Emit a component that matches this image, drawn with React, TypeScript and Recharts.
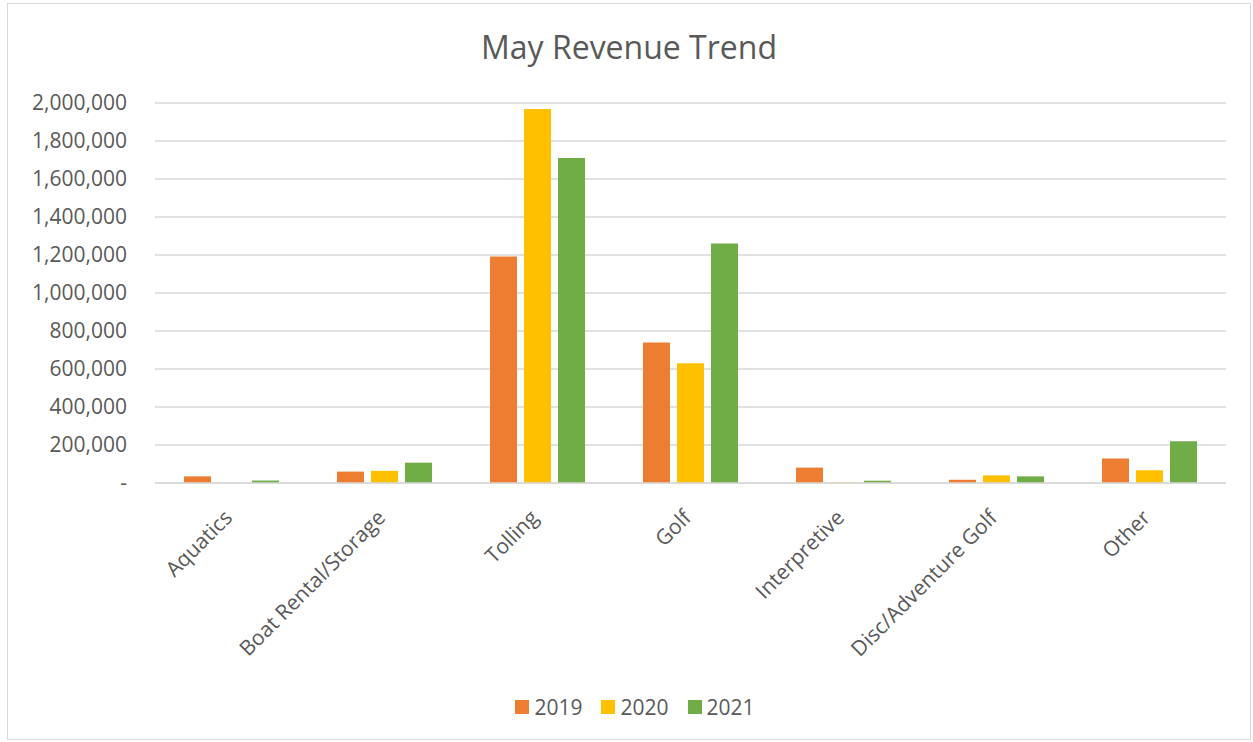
import { Bar, BarChart, CartesianGrid, Legend, XAxis, YAxis } from "recharts";

const categories = [
  "Aquatics",
  "Boat Rental/Storage",
  "Tolling",
  "Golf",
  "Interpretive",
  "Disc/Adventure Golf",
  "Other",
];
const rev2019 = [35000, 60000, 1192000, 740000, 81000, 17000, 129000];
const rev2020 = [0, 64000, 1968000, 630000, 3000, 40000, 67000];
const rev2021 = [13000, 107000, 1711000, 1260000, 12000, 35000, 220000];
const yTicks = [0, 200000, 400000, 600000, 800000, 1000000, 1200000, 1400000, 1600000, 1800000, 2000000];

const series = [
  { key: "2019", values: rev2019, color: "#ED7D31" },
  { key: "2020", values: rev2020, color: "#FFC000" },
  { key: "2021", values: rev2021, color: "#70AD47" },
];

const data = categories.map((name, i) => {
  const row: Record<string, string | number> = { name };
  series.forEach((s) => (row[s.key] = s.values[i]));
  return row;
});

const FONT = "'Open Sans', 'Liberation Sans', sans-serif";
const TEXT = "#595959";

function CategoryTick({ x, y, payload }: any) {
  return (
    <g transform={`translate(${x},${y})`}>
      <text
        x={2}
        y={28}
        textAnchor="end"
        transform="rotate(-45 2 28)"
        fill={TEXT}
        fontSize={21}
        fontFamily={FONT}
      >
        {payload.value}
      </text>
    </g>
  );
}

function YearLegend() {
  return (
    <div
      style={{
        display: "flex",
        justifyContent: "center",
        gap: 19,
        paddingLeft: 36,
        paddingTop: 2,
        fontFamily: FONT,
        fontSize: 21,
        color: TEXT,
      }}
    >
      {series.map((s) => (
        <span key={s.key} style={{ display: "flex", alignItems: "center", gap: 5 }}>
          <span style={{ width: 14, height: 14, background: s.color, display: "inline-block" }} />
          {s.key}
        </span>
      ))}
    </div>
  );
}

export default function App() {
  return (
    <div
      style={{
        position: "absolute",
        left: 7,
        top: 3,
        width: 1244,
        height: 737,
        boxSizing: "border-box",
        border: "1px solid #d9d9d9",
        background: "#fff",
      }}
    >
      <div
        style={{
          position: "absolute",
          left: 0,
          right: 0,
          top: 21,
          textAlign: "center",
          fontFamily: FONT,
          fontSize: 32,
          color: TEXT,
        }}
      >
        May Revenue Trend
      </div>
      <BarChart
        width={1242}
        height={735}
        data={data}
        margin={{ top: 99, right: 24, bottom: 18, left: 0 }}
        barGap={7}
        barSize={27}
      >
        <CartesianGrid vertical={false} stroke="#d9d9d9" strokeWidth={1.5} />
        <XAxis
          dataKey="name"
          interval={0}
          height={208}
          axisLine={{ stroke: "#d9d9d9", strokeWidth: 1.5 }}
          tickLine={false}
          tick={<CategoryTick />}
        />
        <YAxis
          width={147}
          domain={[0, 2000000]}
          ticks={yTicks}
          axisLine={false}
          tickLine={false}
          tickMargin={22}
          tick={{ fill: TEXT, fontSize: 21, fontFamily: FONT }}
          tickFormatter={(v: number) => (v === 0 ? "-" : v.toLocaleString("en-US"))}
        />
        <Legend verticalAlign="bottom" content={<YearLegend />} />
        {series.map((s) => (
          <Bar key={s.key} dataKey={s.key} fill={s.color} isAnimationActive={false} />
        ))}
      </BarChart>
    </div>
  );
}
